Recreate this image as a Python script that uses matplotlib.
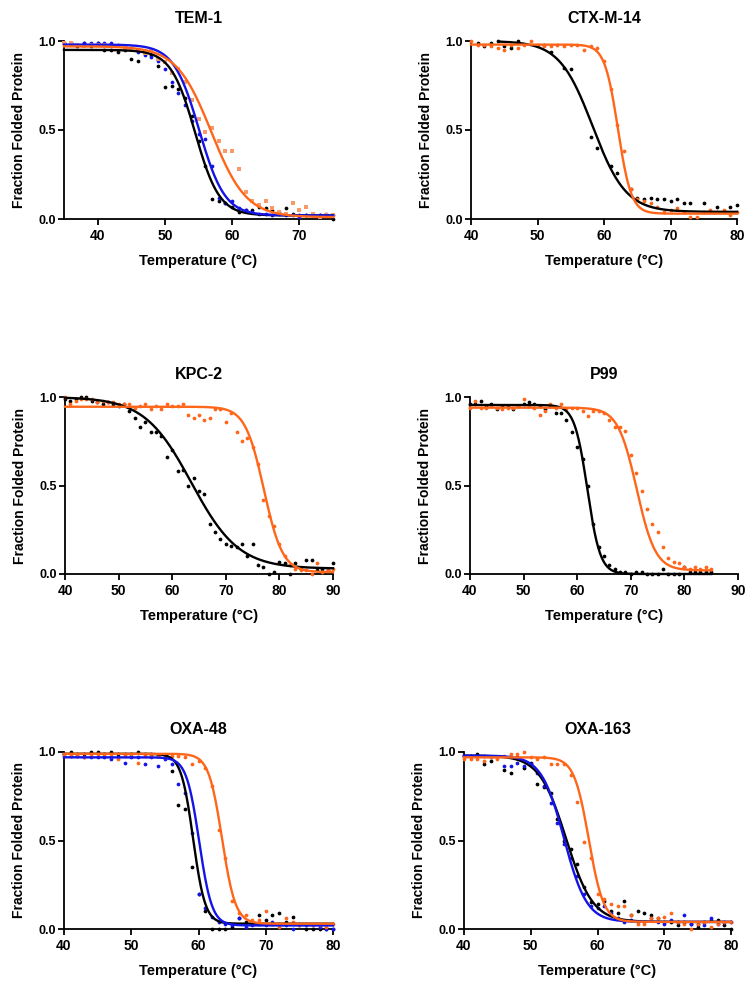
import numpy as np
import matplotlib
matplotlib.use("Agg")
import matplotlib.pyplot as plt

plt.rcParams['font.family'] = ['Liberation Sans', 'DejaVu Sans']
plt.rcParams['font.weight'] = 'bold'

BLACK = '#000000'
BLUE = '#1414E6'
ORANGE = '#FF661A'
LIGHT_ORANGE = '#F8996A'

# ---- TEM-1 ----
tem_x = list(range(35, 76))
tem_black = [0.99, 0.99, 0.97, 0.99, 0.97, 0.99, 0.95, 0.95, 0.94, 0.95, 0.90, 0.89, 0.93, 0.92,
             0.86, 0.74, 0.75, 0.73, 0.68, 0.58, 0.44, 0.30, 0.11, 0.10, 0.09, 0.07, 0.04, 0.05,
             0.05, 0.07, 0.06, 0.05, 0.04, 0.06, 0.03, 0.02, 0.02, 0.02, 0.02, 0.02, 0.00]
tem_blue = [0.99, 0.99, 0.98, 0.99, 0.99, 0.99, 0.99, 0.99, 0.98, 0.97, 0.96, 0.94, 0.92, 0.91,
            0.89, 0.84, 0.77, 0.71, 0.64, 0.55, 0.48, 0.45, 0.30, 0.12, 0.09, 0.10, 0.06, 0.05,
            0.04, 0.03, 0.03, 0.02, 0.03, 0.02, 0.02, 0.01, 0.02, 0.02, 0.02, 0.03, 0.02]
tem_orange = [0.99, 0.99, 0.98, 0.97, 0.98, 0.98, 0.98, 0.97, 0.97, 0.96, 0.95, 0.95, 0.93, 0.95,
              0.90, 0.88, 0.82, 0.84, 0.77, 0.67, 0.56, 0.49, 0.51, 0.44, 0.38, 0.38, 0.28, 0.15,
              0.10, 0.08, 0.10, 0.06, 0.04, 0.03, 0.09, 0.05, 0.07, 0.03, 0.01, 0.02, 0.02]

# ---- CTX-M-14 ----
ctx_black_x = [41, 42, 43, 44, 45, 46, 47, 51, 52, 54, 55, 58, 59, 61, 62, 64, 65, 66, 67, 68,
               69, 70, 71, 72, 73, 75, 77, 79, 80]
ctx_black = [0.99, 0.97, 0.99, 1.00, 0.97, 0.96, 1.00, 0.98, 0.94, 0.85, 0.84, 0.46, 0.40, 0.30,
             0.26, 0.17, 0.12, 0.11, 0.12, 0.11, 0.11, 0.10, 0.11, 0.09, 0.09, 0.09, 0.07, 0.07, 0.08]
ctx_x = list(range(40, 81))
ctx_orange = [1.00, 0.98, 0.98, 0.97, 0.96, 0.95, 0.98, 0.96, 0.98, 1.00, 0.98, 0.97, 0.97, 0.98,
              0.97, 0.98, 0.98, 0.95, 0.97, 0.96, 0.89, 0.73, 0.53, 0.38, 0.17, 0.11, 0.10, 0.09,
              0.07, 0.04, 0.05, 0.06, 0.04, 0.01, 0.01, 0.04, 0.05, 0.04, 0.05, 0.02, 0.04]

# ---- KPC-2 ----
kpc_x = list(range(40, 91))
kpc_black = [0.99, 0.98, 0.99, 1.00, 1.00, 0.98, 0.97, 0.96, 0.97, 0.96, 0.95, 0.96, 0.92, 0.88,
             0.83, 0.86, 0.80, 0.80, 0.78, 0.66, 0.70, 0.58, 0.59, 0.50, 0.54, 0.47, 0.45, 0.28,
             0.24, 0.20, 0.17, 0.16, 0.15, 0.17, 0.10, 0.17, 0.05, 0.04, 0.00, 0.01, 0.07, 0.06,
             0.00, 0.06, 0.03, 0.08, 0.08, 0.02, 0.03, 0.02, 0.06]
kpc_orange = [1.00, 0.96, 0.98, 0.99, 0.99, 0.99, 0.97, 0.98, 0.97, 0.97, 0.96, 0.96, 0.96, 0.94,
              0.95, 0.96, 0.93, 0.95, 0.93, 0.96, 0.95, 0.95, 0.96, 0.90, 0.88, 0.90, 0.87, 0.88,
              0.93, 0.93, 0.86, 0.91, 0.80, 0.75, 0.77, 0.72, 0.62, 0.42, 0.33, 0.27, 0.17, 0.10,
              0.05, 0.03, 0.02, 0.02, 0.00, 0.06, 0.01, 0.02, 0.03]

# ---- P99 ----
p99_x = list(range(40, 86))
p99_black = [0.96, 0.96, 0.98, 0.95, 0.96, 0.93, 0.95, 0.95, 0.93, 0.95, 0.96, 0.97, 0.96, 0.95,
             0.93, 0.95, 0.91, 0.91, 0.87, 0.80, 0.72, 0.65, 0.50, 0.28, 0.15, 0.10, 0.05, 0.03,
             0.01, 0.01, 0.00, 0.01, 0.01, 0.00, 0.00, 0.00, 0.03, 0.00, 0.00, 0.00, 0.04, 0.01,
             0.01, 0.01, 0.01, 0.01]
p99_orange = [0.94, 0.98, 0.94, 0.94, 0.95, 0.94, 0.93, 0.94, 0.94, 0.95, 0.99, 0.95, 0.94, 0.90,
              0.92, 0.96, 0.94, 0.96, 0.93, 0.94, 0.94, 0.92, 0.89, 0.92, 0.92, 0.91, 0.87, 0.83,
              0.83, 0.81, 0.67, 0.57, 0.47, 0.37, 0.28, 0.24, 0.15, 0.09, 0.07, 0.06, 0.04, 0.03,
              0.04, 0.03, 0.04, 0.03]

# ---- OXA-48 ----
oxa48_x = list(range(40, 81))
oxa48_black = [0.99, 1.00, 0.99, 0.99, 1.00, 1.00, 0.99, 1.00, 0.99, 0.99, 0.99, 1.00, 0.99, 0.99,
               0.98, 0.97, 0.89, 0.70, 0.68, 0.35, 0.20, 0.10, 0.00, 0.00, 0.00, 0.01, 0.06, 0.04,
               0.03, 0.08, 0.05, 0.08, 0.09, 0.04, 0.07, 0.02, 0.00, 0.00, 0.00, 0.00, 0.00]
oxa48_blue = [0.99, 0.98, 0.98, 0.97, 0.97, 0.97, 0.97, 0.96, 0.97, 0.94, 0.97, 0.97, 0.93, 0.97,
              0.92, 0.96, 0.93, 0.82, 0.77, 0.54, 0.20, 0.12, 0.07, 0.04, 0.03, 0.02, 0.06, 0.01,
              0.02, 0.03, 0.02, 0.04, 0.03, 0.02, 0.00, 0.03, 0.02, 0.02, 0.01, 0.00, 0.00]
oxa48_orange = [0.98, 0.98, 0.98, 0.97, 0.98, 0.99, 0.99, 0.98, 0.96, 0.98, 0.99, 0.94, 0.98, 0.98,
                0.98, 0.97, 0.98, 0.98, 0.97, 0.93, 0.95, 0.91, 0.81, 0.56, 0.40, 0.16, 0.09, 0.08,
                0.05, 0.05, 0.10, 0.03, 0.01, 0.06, 0.04, 0.02, 0.03, 0.02, 0.02, 0.01, 0.03]

# ---- OXA-163 ----
oxa163_x = list(range(40, 81))
oxa163_black = [0.98, 0.98, 0.99, 0.93, 0.95, 0.97, 0.90, 0.88, 0.97, 0.91, 0.94, 0.82, 0.80, 0.77,
                0.62, 0.50, 0.45, 0.37, 0.24, 0.15, 0.14, 0.16, 0.10, 0.09, 0.16, 0.08, 0.10, 0.09,
                0.08, 0.06, 0.04, 0.04, 0.02, 0.04, 0.03, 0.01, 0.04, 0.05, 0.05, 0.02, 0.00]
oxa163_blue = [0.98, 0.98, 0.98, 0.98, 0.97, 0.97, 0.92, 0.92, 0.94, 0.92, 0.93, 0.88, 0.81, 0.71,
               0.60, 0.48, 0.40, 0.30, 0.20, 0.13, 0.12, 0.13, 0.09, 0.06, 0.04, 0.05, 0.04, 0.04,
               0.06, 0.04, 0.03, 0.05, 0.04, 0.08, 0.03, 0.03, 0.02, 0.06, 0.03, 0.04, 0.04]
oxa163_orange = [0.96, 0.96, 0.96, 0.95, 0.97, 0.96, 0.98, 0.99, 0.99, 1.00, 0.97, 0.96, 0.97, 0.93,
                 0.93, 0.93, 0.87, 0.72, 0.49, 0.40, 0.20, 0.17, 0.14, 0.13, 0.13, 0.08, 0.03, 0.03,
                 0.06, 0.06, 0.07, 0.09, 0.04, 0.03, 0.00, 0.03, 0.04, 0.01, 0.03, 0.04, 0.04]

# Boltzmann fit parameters: (top, bottom, Tm, slope, x_start, x_end)
fits = {
    'TEM-1': [(BLACK, (0.95, 0.02, 54.5, 1.8, 35, 75)),
              (BLUE, (0.98, 0.02, 55.1, 1.9, 35, 75)),
              (ORANGE, (0.97, 0.01, 56.9, 2.6, 35, 75))],
    'CTX-M-14': [(BLACK, (1.00, 0.04, 58.3, 2.5, 44.5, 80)),
                 (ORANGE, (0.98, 0.03, 62.1, 1.0, 40, 80))],
    'KPC-2': [(BLACK, (1.00, 0.03, 63.6, 4.4, 40, 90)),
              (ORANGE, (0.945, 0.01, 77.1, 1.75, 40, 90))],
    'P99': [(BLACK, (0.955, 0.00, 61.9, 1.2, 40, 85)),
            (ORANGE, (0.94, 0.02, 71.1, 1.75, 40, 85))],
    'OXA-48': [(BLACK, (0.99, 0.03, 59.2, 0.9, 40, 80)),
               (BLUE, (0.97, 0.02, 60.1, 0.95, 40, 80)),
               (ORANGE, (0.99, 0.03, 63.5, 1.0, 40, 80))],
    'OXA-163': [(BLACK, (0.98, 0.04, 55.3, 2.0, 40, 80)),
                (BLUE, (0.98, 0.04, 55.0, 1.7, 40, 80)),
                (ORANGE, (0.97, 0.04, 58.7, 1.1, 40, 80))],
}

points = {
    'TEM-1': [(tem_x, tem_black, BLACK, 'o'), (tem_x, tem_blue, BLUE, 'o'),
              (tem_x, tem_orange, LIGHT_ORANGE, 's')],
    'CTX-M-14': [(ctx_black_x, ctx_black, BLACK, 'o'), (ctx_x, ctx_orange, ORANGE, 'o')],
    'KPC-2': [(kpc_x, kpc_black, BLACK, 'o'), (kpc_x, kpc_orange, ORANGE, 'o')],
    'P99': [(p99_x, p99_black, BLACK, 'o'), (p99_x, p99_orange, ORANGE, 'o')],
    'OXA-48': [(oxa48_x, oxa48_black, BLACK, 'o'), (oxa48_x, oxa48_blue, BLUE, 'o'),
               (oxa48_x, oxa48_orange, ORANGE, 'o')],
    'OXA-163': [(oxa163_x, oxa163_black, BLACK, 'o'), (oxa163_x, oxa163_blue, BLUE, 'o'),
                (oxa163_x, oxa163_orange, ORANGE, 'o')],
}

# panel: (left, bottom, width, height) in pixels, x range
W, H = 754, 984
panels = [
    ('TEM-1', (64, 219, 269, 178), (35, 75), [40, 50, 60, 70]),
    ('CTX-M-14', (471, 219, 266, 178), (40, 80), [40, 50, 60, 70, 80]),
    ('KPC-2', (65, 574, 268, 177), (40, 90), [40, 50, 60, 70, 80, 90]),
    ('P99', (470, 574, 268, 177), (40, 90), [40, 50, 60, 70, 80, 90]),
    ('OXA-48', (64, 929, 269, 177), (40, 80), [40, 50, 60, 70, 80]),
    ('OXA-163', (464, 929, 267, 177), (40, 80), [40, 50, 60, 70, 80]),
]


def boltzmann(t, top, bottom, tm, slope):
    return bottom + (top - bottom) / (1 + np.exp((t - tm) / slope))


fig = plt.figure(figsize=(W / 100, H / 100), dpi=100)

for name, (l, b, w, h), xlim, xticks in panels:
    ax = fig.add_axes([l / W, 1 - b / H, w / W, h / H])
    for xs, ys, col, mk in points[name]:
        ms = 2.2 if mk == 's' else 2.7
        ax.plot(xs, ys, linestyle='none', marker=mk, markersize=ms, color=col,
                markeredgewidth=0, clip_on=False, zorder=3)
    for col, (top, bottom, tm, slope, x0, x1) in fits[name]:
        t = np.linspace(x0, x1, 400)
        ax.plot(t, boltzmann(t, top, bottom, tm, slope), color=col, linewidth=1.7,
                clip_on=False, zorder=4)
    ax.set_xlim(*xlim)
    ax.set_ylim(0, 1)
    ax.set_xticks(xticks)
    ax.set_yticks([0, 0.5, 1.0])
    ax.set_yticklabels(['0.0', '0.5', '1.0'])
    ax.spines['top'].set_visible(False)
    ax.spines['right'].set_visible(False)
    for s in ('left', 'bottom'):
        ax.spines[s].set_linewidth(1.3)
    ax.tick_params(direction='out', length=4, width=1.3, pad=2)
    ax.tick_params(axis='x', labelsize=10, pad=3)
    ax.tick_params(axis='y', labelsize=9)
    ax.set_title(name, fontsize=11.5, fontweight='bold', pad=13)
    ax.set_xlabel('Temperature (°C)', fontsize=10.5, fontweight='bold', labelpad=8)
    ax.set_ylabel('Fraction Folded Protein', fontsize=10, fontweight='bold', labelpad=9)

plt.savefig('out.png', dpi=100)
